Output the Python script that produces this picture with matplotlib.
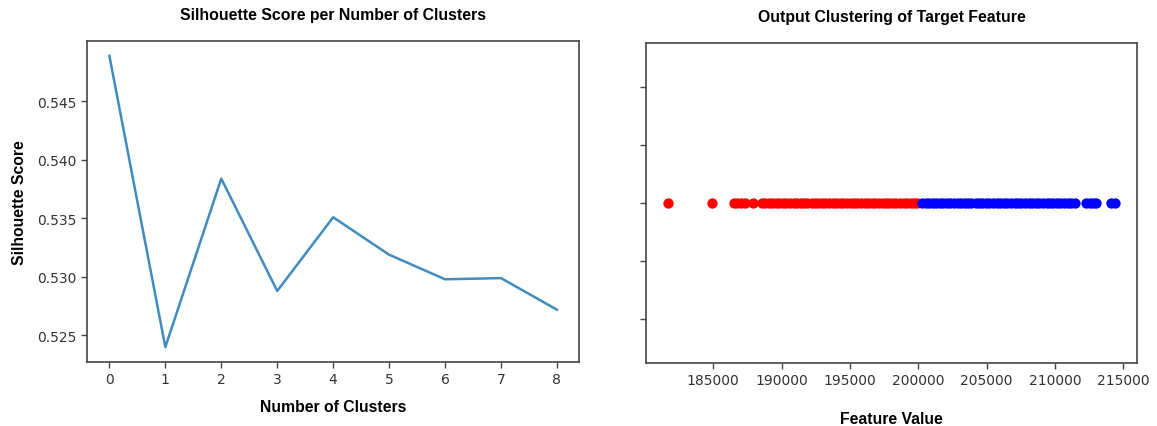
import numpy as np
import matplotlib.pyplot as plt

# silhouette score for each tried number of clusters (index on the x axis)
cluster_index = [0, 1, 2, 3, 4, 5, 6, 7, 8]
silhouette_scores = [0.5489, 0.5240, 0.5384, 0.5288, 0.5351, 0.5319, 0.5298, 0.5299, 0.5272]

# target feature values split by the assigned cluster
cluster_0_values = [
    181700, 184900, 186500, 186750, 187050, 187350, 187950,
    188550, 188800, 189050, 189300, 189600, 189850, 190100, 190350,
    190600, 190900, 191150, 191400, 191650, 191900, 192200, 192450,
    192700, 192950, 193200, 193500, 193750, 194000, 194250, 194500,
    194800, 195050, 195300, 195550, 195800, 196100, 196350, 196600,
    196850, 197100, 197400, 197650, 197900, 198150, 198400, 198700,
    198950, 199200, 199450, 199700, 199950,
]
cluster_1_values = [
    200300, 200550, 200800, 201050, 201300, 201600, 201850, 202100,
    202350, 202600, 202900, 203150, 203400, 203650, 203900, 204200,
    204450, 204700, 204950, 205200, 205500, 205750, 206000, 206250,
    206500, 206800, 207050, 207300, 207550, 207800, 208100, 208350,
    208600, 208850, 209100, 209400, 209650, 209900, 210150, 210400,
    210700, 210950, 211150, 211450, 212250, 212550, 212800, 213000,
    214100, 214400,
]

title_font = dict(family="Liberation Sans", weight="bold", fontsize=11.4)
label_font = dict(family="Liberation Sans", weight="bold", fontsize=11.3)

fig = plt.figure(figsize=(11.57, 4.27), dpi=100)
ax1 = fig.add_axes([0.0752, 0.1506, 0.4255, 0.7504])
ax2 = fig.add_axes([0.5581, 0.1475, 0.4249, 0.7487])

ax1.plot(cluster_index, silhouette_scores, color="#1f77b4", linewidth=1.8, alpha=0.85)
ax1.set_title("Silhouette Score per Number of Clusters", pad=16, **title_font)
ax1.set_xlabel("Number of Clusters", labelpad=9, **label_font)
ax1.set_ylabel("Silhouette Score", labelpad=7, **label_font)
ax1.set_xticks(cluster_index)
ax1.set_yticks([0.525, 0.530, 0.535, 0.540, 0.545])

ax2.scatter(cluster_0_values, np.zeros(len(cluster_0_values)), color="red", s=55, linewidths=0)
ax2.scatter(cluster_1_values, np.zeros(len(cluster_1_values)), color="blue", s=55, linewidths=0)
ax2.set_title("Output Clustering of Target Feature", pad=16, **title_font)
ax2.set_xlabel("Feature Value", labelpad=17, **label_font)
ax2.set_ylim(-0.055, 0.055)
ax2.set_yticks([-0.04, -0.02, 0.0, 0.02, 0.04])
ax2.set_yticklabels([])
ax2.set_xticks([185000, 190000, 195000, 200000, 205000, 210000, 215000])

for ax in (ax1, ax2):
    for spine in ax.spines.values():
        spine.set_color("#444444")
        spine.set_linewidth(1.2)
    ax.tick_params(colors="#444444", labelcolor="#333333", labelsize=10, width=1.0, length=4)

fig.savefig("out.png", dpi=100)
